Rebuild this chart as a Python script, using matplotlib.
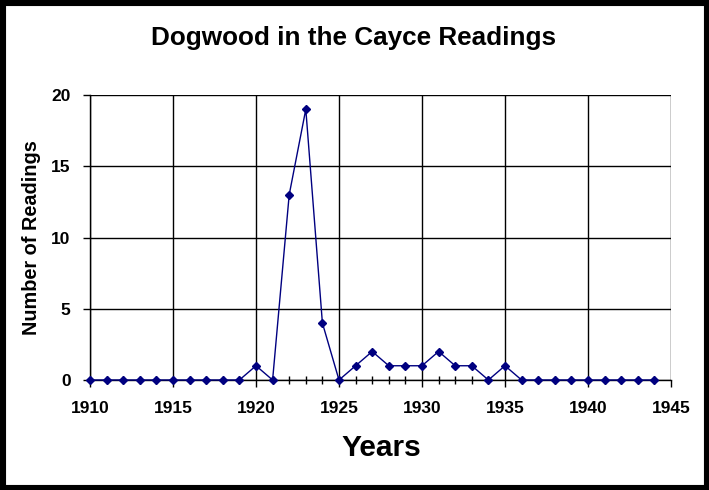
import matplotlib
matplotlib.use("Agg")
import matplotlib.pyplot as plt
from matplotlib.patches import Rectangle

years = list(range(1910, 1945))
readings = [0, 0, 0, 0, 0, 0, 0, 0, 0, 0,
            1, 0, 13, 19, 4, 0, 1, 2, 1, 1,
            1, 2, 1, 1, 0, 1, 0, 0, 0, 0,
            0, 0, 0, 0, 0]
x_ticks = list(range(1910, 1946, 5))
y_ticks = [0, 5, 10, 15, 20]

plt.rcParams['font.family'] = ['Liberation Sans', 'DejaVu Sans']

fig = plt.figure(figsize=(7.09, 4.90), dpi=100)
ax = fig.add_axes([90/709, 1-380/490, 581/709, 285/490])

ax.plot(years, readings, color='#000080', lw=1.0, marker='D', ms=4.2,
        mec='#000080', mfc='#000080', clip_on=False, zorder=3)

ax.set_xlim(1910, 1945)
ax.set_ylim(0, 20)
ax.set_xticks(x_ticks)
ax.set_xticks(years, minor=True)
ax.set_yticks(y_ticks)
ax.grid(True, which='major', color='black', lw=1.0)
for s in ['top', 'right']:
    ax.spines[s].set_visible(False)
for s in ['left', 'bottom']:
    ax.spines[s].set_linewidth(1.0)
    ax.spines[s].set_color('black')
ax.tick_params(axis='x', which='major', direction='out', length=5, width=1,
               labelsize=12.5, pad=10)
ax.tick_params(axis='x', which='minor', direction='inout', length=6, width=1)
ax.tick_params(axis='y', which='major', direction='out', length=5, width=1,
               labelsize=12.5, pad=9)
for lab in ax.get_xticklabels() + ax.get_yticklabels():
    lab.set_fontweight('bold')

fig.text(381/709, 1-448/490, 'Years', fontsize=21.5, fontweight='bold',
         ha='center', va='center')
fig.text(32/709, 1-238/490, 'Number of Readings', fontsize=14.3,
         fontweight='bold', ha='center', va='center', rotation=90)
fig.text(354/709, 1-38/490, 'Dogwood in the Cayce Readings', fontsize=18.8,
         fontweight='bold', ha='center', va='center')

fig.patches.append(Rectangle((0, 0), 1, 1, transform=fig.transFigure,
                             fill=False, edgecolor='black', lw=8, zorder=10))

fig.savefig('out.png', dpi=100, facecolor='white')
